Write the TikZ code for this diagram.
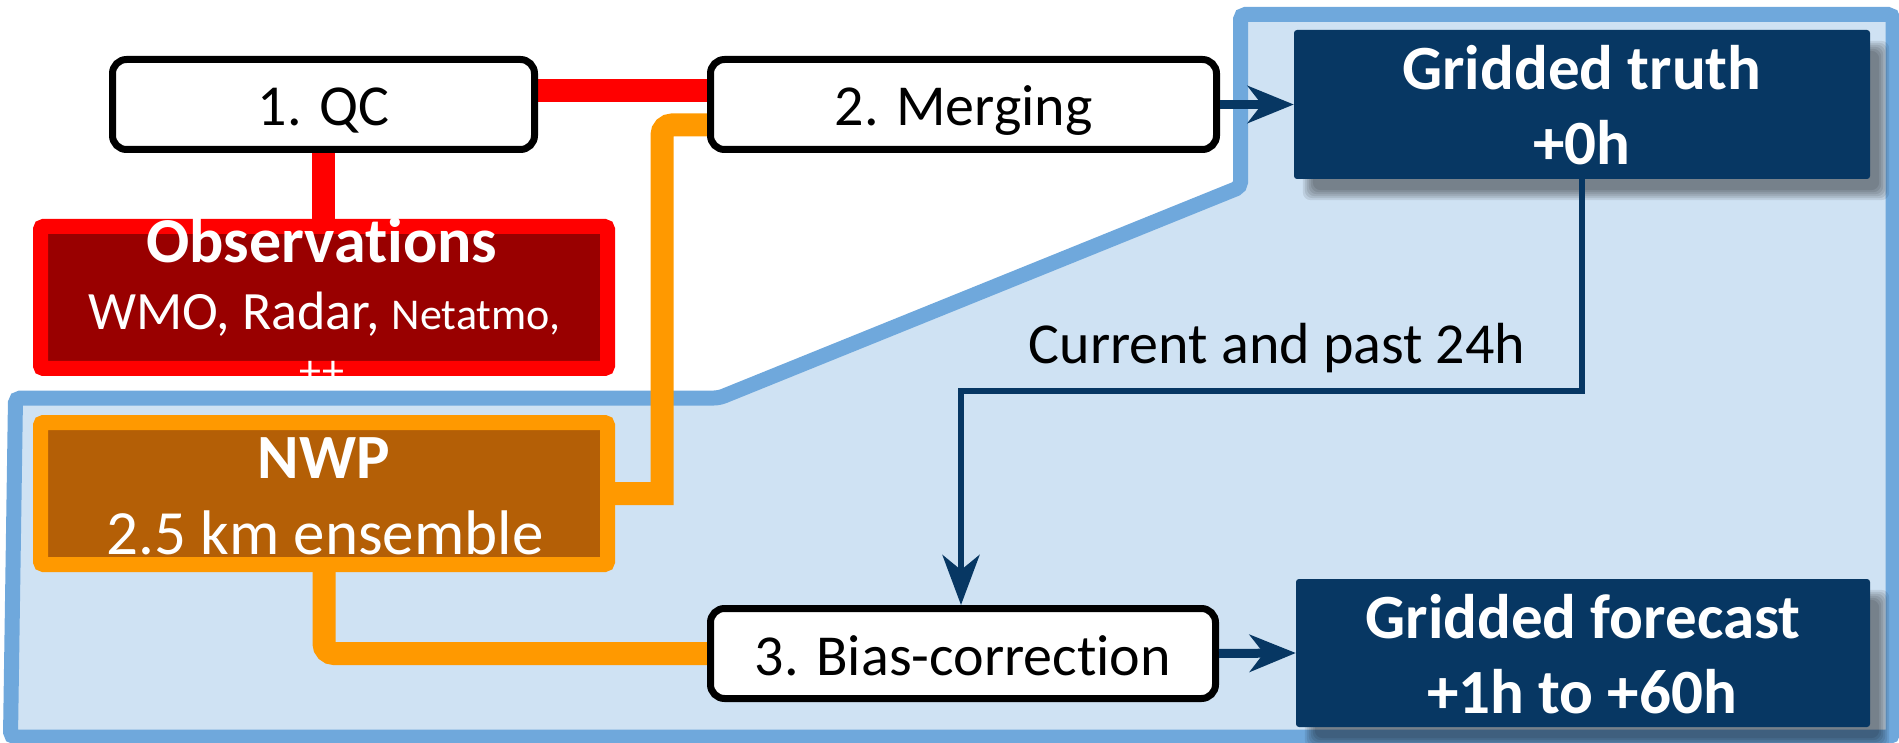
\documentclass[tikz,border=0pt]{standalone}
\usepackage{fontspec}
\setmainfont{Carlito}[Ligatures=NoCommon]
\usetikzlibrary{arrows.meta,calc}

\definecolor{regionfill}{HTML}{CFE2F3}
\definecolor{regionline}{HTML}{6FA8DC}
\definecolor{navy}{HTML}{073763}
\definecolor{obsred}{HTML}{FF0000}
\definecolor{obsdark}{HTML}{990000}
\definecolor{nwporange}{HTML}{FF9900}
\definecolor{nwpdark}{HTML}{B45F06}

\pgfdeclarelayer{back}
\pgfdeclarelayer{wires}
\pgfsetlayers{back,wires,main}

\tikzset{
  process/.style={draw=black, line width=7pt, fill=white, rounded corners=14pt,
    minimum width=506pt, minimum height=90pt, inner sep=0pt,
    font=\fontsize{58}{70}\selectfont, text height=43pt, text depth=0pt},
  product/.style={fill=navy, rounded corners=3pt, minimum width=575pt,
    minimum height=148pt, inner sep=0pt},
  softshade/.style={fill=black, opacity=.085, rounded corners=8pt},
  source/.style={line width=15pt, rounded corners=3pt, minimum width=567pt,
    minimum height=142pt, inner sep=0pt},
  boxtext/.style={text=white, anchor=base, inner sep=0pt},
  bigbold/.style={font=\fontsize{63}{75}\selectfont\bfseries},
  feed/.style={line width=23pt},
  flow/.style={draw=navy, -{Stealth[length=46pt,width=37pt,inset=14pt]}},
}

% "t" followed by "i" without the font's ti ligature
\newcommand\tiplain{t\kern0pt i}

% soft shadow behind a product box: stacked translucent rectangles
\newcommand\softshadow[1]{%
  \foreach \d in {-5,-3,...,5}{%
    \fill[softshade] ([xshift=14pt+\d pt, yshift=-16pt-\d pt]#1.north west)
      rectangle ([xshift=14pt-\d pt, yshift=-16pt+\d pt]#1.south east);
  }%
}

\begin{document}
\begin{tikzpicture}[x=1pt,y=-1pt]
\useasboundingbox (0,0) rectangle (1899,743);

% source boxes
\node[source, draw=obsred, fill=obsdark] (obs) at (324,297.5) {};
\node[boxtext, font=\fontsize{64}{75}\selectfont\bfseries] (obsA) at (322,263) {Observa\tiplain ons};
\node[boxtext] (obsB) at (324,330) {{\fontsize{54}{60}\selectfont WMO, Radar, }{\fontsize{44}{50}\selectfont Netatmo,}};
\node[boxtext, font=\fontsize{44}{50}\selectfont] (obsC) at (322,385) {++};

\node[source, draw=nwporange, fill=nwpdark] (nwp) at (324,493.5) {};
\node[boxtext, bigbold] (nwpA) at (324,478) {NWP};
\node[boxtext, font=\fontsize{63}{75}\selectfont] (nwpB) at (325,554) {2.5 km ensemble};

% processing steps
\node[process, minimum width=422pt] (qc) at (323.5,104.5) {1. QC};
\node[process] (merge) at (963.5,104.5) {2. Merging};
\node[process, minimum width=505pt] (bias) at (963,653.5) {3. Bias-correc\tiplain on};

% products
\node[product, minimum width=576pt, minimum height=149pt] (truth) at (1582,104.5) {};
\node[boxtext, bigbold] (truthA) at (1582,90) {Gridded truth};
\node[boxtext, bigbold] (truthB) at (1582,165) {+0h};

\node[product, minimum width=574pt] (fcst) at (1583,653) {};
\node[boxtext, bigbold] (fcstA) at (1583,638) {Gridded forecast};
\node[boxtext, bigbold] (fcstB) at (1582,713) {+1h to +60h};

\node[anchor=base, inner sep=0pt, font=\fontsize{58}{70}\selectfont] (pastlbl) at (1277,363) {Current and past 24h};

% shaded region of the forecast chain
\begin{pgfonlayer}{back}
\draw[line width=15pt, draw=regionline, fill=regionfill, rounded corners=5pt]
  (1240.5,14.5) -- (1893,14.5) -- (1893,737) -- (10.5,737) -- (15.5,398)
  -- (719,398) -- (1240.5,187) -- cycle;
\end{pgfonlayer}

% connectors and shadows
\coordinate (bend) at (662,0);
\coordinate (mergein) at ([yshift=-20.5pt]merge.west);
\coordinate (turn) at (961,391);
\begin{pgfonlayer}{wires}
\softshadow{truth}
\softshadow{fcst}
\draw[feed, obsred] ([yshift=13.5pt]qc.east) -- ([yshift=13.5pt]merge.west);
\draw[feed, obsred] (qc.south) -- (qc.south |- obs.north);
\draw[feed, nwporange] (nwp.east) -- (nwp.east -| bend)
  [rounded corners=10pt] -- (bend |- mergein) -- (mergein);
\draw[feed, nwporange, rounded corners=10pt] (nwp.south) -- (nwp.south |- bias.west) -- (bias.west);
\end{pgfonlayer}

\draw[flow, line width=8.5pt] (merge.east) -- (truth.west);
\draw[flow, line width=9pt] (bias.east) -- (fcst.west);
\draw[draw=navy, line width=6pt, -{Stealth[length=50pt,width=37pt,inset=15pt]}]
  (truth.south) |- (turn) -- (turn |- bias.north);
\end{tikzpicture}
\end{document}
